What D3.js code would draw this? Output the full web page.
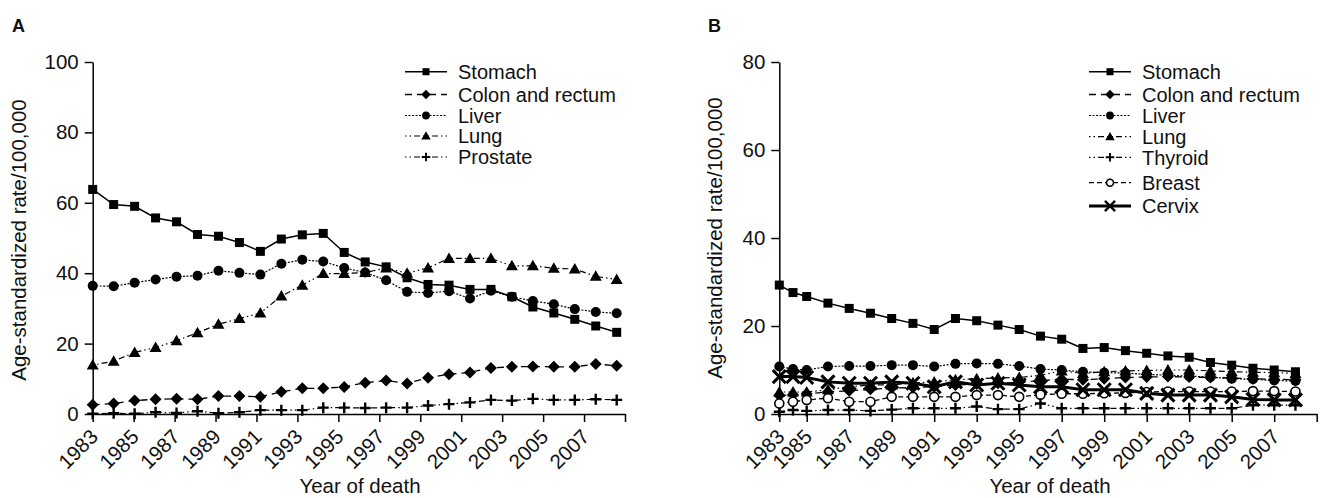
<!DOCTYPE html>
<html><head><meta charset="utf-8">
<script src="https://cdn.jsdelivr.net/npm/d3@7/dist/d3.min.js"></script>
<style>
body{margin:0;background:#fff}
text{font-family:"Liberation Sans",Arial,Helvetica,sans-serif;fill:#111}
</style>
</head><body>
<svg id="c" width="1321" height="498"></svg>
<script>
// ---------- data ----------
const years = [1983,1984,1985,1986,1987,1988,1989,1990,1991,1992,1993,1994,1995,1996,1997,1998,1999,2000,2001,2002,2003,2004,2005,2006,2007,2008];
const tickYears = [1983,1985,1987,1989,1991,1993,1995,1997,1999,2001,2003,2005,2007,2009];
const tickLabels = ["1983","1985","1987","1989","1991","1993","1995","1997","1999","2001","2003","2005","2007",""];
const yTicksA = [0,20,40,60,80,100];
const yTicksB = [0,20,40,60,80];

// Panel A (men)
const aStomach  = [63.8,59.5,59.0,55.7,54.6,51.0,50.5,48.7,46.2,49.7,50.9,51.3,45.9,43.2,41.8,38.7,36.8,36.6,35.4,35.4,33.3,30.4,28.7,26.9,25.0,23.2];
const aColon    = [2.6,3.0,3.8,4.2,4.3,4.2,5.1,5.1,4.9,6.3,7.3,7.3,7.7,8.9,9.5,8.7,10.3,11.3,11.8,13.1,13.4,13.5,13.4,13.4,14.2,13.7];
const aLiver    = [36.4,36.3,37.3,38.2,39.0,39.3,40.7,40.1,39.6,42.7,43.8,43.3,41.5,40.2,38.0,34.7,34.4,34.9,32.8,35.0,33.3,32.1,31.2,29.8,29.0,28.6];
const aLung     = [13.9,15.0,17.5,18.9,20.8,23.1,25.5,27.1,28.7,33.5,36.6,39.9,39.9,40.2,41.5,40.0,41.5,44.2,44.2,44.2,42.1,42.1,41.4,41.2,39.1,38.2];
const aProstate = [0.1,0.2,0.1,0.5,0.3,0.8,0.2,0.5,1.1,1.1,1.1,1.8,1.8,1.7,1.8,1.8,2.4,2.8,3.3,4.0,3.8,4.3,4.0,4.0,4.2,4.0];

// Panel B (women)
const bStomach = [29.3,27.6,26.7,25.2,24.0,22.9,21.7,20.6,19.2,21.7,21.2,20.2,19.2,17.7,17.0,14.9,15.1,14.4,13.8,13.2,12.9,11.7,11.1,10.4,10.0,9.6];
const bColon   = [4.2,4.4,4.6,5.0,5.3,5.6,5.9,6.0,6.2,6.6,6.8,7.0,7.2,7.6,7.9,7.8,8.0,8.3,8.4,8.5,8.4,8.3,8.2,8.0,7.9,7.8];
const bLiver   = [10.8,10.2,10.0,10.8,10.9,10.9,11.1,11.1,10.8,11.4,11.5,11.4,10.9,10.2,10.0,9.6,9.4,9.3,9.0,8.8,8.6,8.4,8.0,7.9,7.6,7.5];
const bLung    = [5.0,5.0,5.0,5.5,6.2,6.6,6.6,7.1,7.3,7.8,8.0,8.2,8.3,8.8,9.8,9.2,9.6,9.8,9.9,10.0,10.0,9.8,9.6,9.5,9.4,9.2];
const bThyroid = [0.5,0.9,0.7,0.9,0.9,0.7,1.0,1.3,1.3,1.3,1.7,1.1,1.1,2.4,1.3,1.3,1.3,1.3,1.3,1.3,1.3,1.3,1.3,2.0,2.0,2.0];
const bBreast  = [2.4,2.8,3.2,3.6,2.8,2.8,3.9,3.9,3.9,3.9,4.3,4.3,3.9,4.4,4.6,4.6,4.7,4.8,5.0,5.1,5.1,5.1,5.1,5.2,5.2,5.1];
const bCervix  = [8.5,8.5,8.3,7.3,7.0,7.0,7.3,7.0,6.2,7.3,6.6,7.0,6.6,6.2,6.2,5.5,5.5,5.5,4.7,4.3,4.3,4.3,3.9,3.3,3.2,3.2];

const namesA = ["Stomach","Colon and rectum","Liver","Lung","Prostate"];
const namesB = ["Stomach","Colon and rectum","Liver","Lung","Thyroid","Breast","Cervix"];

// ---------- styles ----------
const STY = {
  "Stomach":          {dash:null,            w:1.5, mark:"square"},
  "Colon and rectum": {dash:"7,5",           w:1.3, mark:"diamond"},
  "Liver":            {dash:"2,1.5",         w:1.2, mark:"circle"},
  "Lung":             {dash:"1.5,3,1.5,3,6,3",w:1.2, mark:"triangle"},
  "Prostate":         {dash:"1.5,3,1.5,3,6,3",w:1.2, mark:"plus"},
  "Thyroid":          {dash:"1.5,3,1.5,3,6,3",w:1.2, mark:"plus"},
  "Breast":           {dash:"5,3",           w:1.3, mark:"ocircle"},
  "Cervix":           {dash:null,            w:3,   mark:"x"}
};

const svg = d3.select("#c");
const FS = 20.5;
const LFS = 20;

function drawMark(g, type, x, y, s) {
  s = s || 1;
  if (type === "square") {
    g.append("rect").attr("x", x-4.5*s).attr("y", y-4.5*s).attr("width", 9*s).attr("height", 9*s).attr("fill","#000");
  } else if (type === "diamond") {
    const r = 6*s;
    g.append("path").attr("d", `M${x},${y-r}L${x+r},${y}L${x},${y+r}L${x-r},${y}Z`).attr("fill","#000");
  } else if (type === "circle") {
    g.append("circle").attr("cx", x).attr("cy", y).attr("r", 5*s).attr("fill","#000");
  } else if (type === "triangle") {
    const r = 6*s;
    g.append("path").attr("d", `M${x},${y-r}L${x+r},${y+r*0.75}L${x-r},${y+r*0.75}Z`).attr("fill","#000");
  } else if (type === "plus") {
    const r = 5.5*s;
    g.append("path").attr("d", `M${x-r},${y}H${x+r}M${x},${y-r}V${y+r}`).attr("stroke","#000").attr("stroke-width",2.4*s);
  } else if (type === "ocircle") {
    g.append("circle").attr("cx", x).attr("cy", y).attr("r", 4.5*s).attr("fill","#fff").attr("stroke","#000").attr("stroke-width",1.6);
  } else if (type === "x") {
    const r = 6.5*s;
    g.append("path").attr("d", `M${x-r},${y-r}L${x+r},${y+r}M${x-r},${y+r}L${x+r},${y-r}`).attr("stroke","#000").attr("stroke-width",3*s);
  }
}

function panel(cfg) {
  const g = svg.append("g");
  const y = d3.scaleLinear().domain([0, cfg.yMax]).range([414, 62]);
  const ya = g.append("g").attr("transform", `translate(${cfg.x0},0)`)
    .call(d3.axisLeft(y).tickValues(cfg.yTicks).tickSize(8).tickSizeOuter(0).tickPadding(6));
  const xa = g.append("g").attr("transform", `translate(0,414)`)
    .call(d3.axisBottom(cfg.xTick).tickValues(tickYears).tickFormat((d,i)=>tickLabels[i]).tickSize(8).tickSizeOuter(0));
  [ya, xa].forEach(a => {
    a.selectAll("path,line").attr("stroke","#000").attr("stroke-width",1.5);
    a.selectAll("text").attr("font-size", FS).attr("font-family", '"Liberation Sans",Arial,sans-serif').attr("fill","#111");
  });
  xa.selectAll("text").attr("text-anchor","end").attr("dy",0).attr("y",0)
    .attr("transform","translate(6,24) rotate(-45)");
  g.append("text").attr("transform", `translate(${cfg.ylabX},${cfg.ylabY}) rotate(-90)`)
    .attr("text-anchor","middle").attr("font-size",FS).text("Age-standardized rate/100,000");
  g.append("text").attr("x", cfg.xlabX).attr("y", 493).attr("text-anchor","middle").attr("font-size",FS).text("Year of death");
  g.append("text").attr("x", cfg.tagX).attr("y", 32).attr("font-size",18).attr("font-weight","bold").text(cfg.tag);

  cfg.series.forEach(s => {
    const st = STY[s.name];
    const line = d3.line().x((d,i)=>cfg.xPt(years[i])).y(d=>y(d));
    g.append("path").datum(s.values).attr("d", line).attr("fill","none")
      .attr("stroke","#000").attr("stroke-width", st.w)
      .attr("stroke-dasharray", st.dash);
  });
  cfg.series.forEach(s => {
    const st = STY[s.name];
    const mg = g.append("g");
    s.values.forEach((v,i) => drawMark(mg, st.mark, cfg.xPt(years[i]), y(v), 1));
  });

  cfg.series.forEach((s,i) => {
    const st = STY[s.name];
    const cy = cfg.legRows[i];
    g.append("line").attr("x1", cfg.legX).attr("x2", cfg.legX+42).attr("y1", cy).attr("y2", cy)
      .attr("stroke","#000").attr("stroke-width", st.w).attr("stroke-dasharray", st.dash);
    drawMark(g, st.mark, cfg.legX+21, cy, 0.78);
    g.append("text").attr("x", cfg.legX+53).attr("y", cy+7.3).attr("font-size",LFS).text(s.name);
  });
}

panel({
  tag:"A", tagX:12, x0:92.7, yMax:100, yTicks:yTicksA,
  xPt: d3.scaleLinear().domain([1983,2008]).range([92.7,616.7]),
  xTick: d3.scaleLinear().domain([1983,2009]).range([92.7,625]),
  ylabX:26, ylabY:240, xlabX:360,
  legX:405, legRows:[71.7,94.5,115.5,136,157],
  series:[
    {name:namesA[0], values:aStomach},
    {name:namesA[1], values:aColon},
    {name:namesA[2], values:aLiver},
    {name:namesA[3], values:aLung},
    {name:namesA[4], values:aProstate}
  ]
});

const xB = d3.scaleLinear().domain([1983,1985,2009]).range([779.3,806.7,1316.7]);
panel({
  tag:"B", tagX:708, x0:779.3, yMax:80, yTicks:yTicksB,
  xPt: xB, xTick: xB,
  ylabX:722, ylabY:238, xlabX:1050,
  legX:1089, legRows:[71.7,94.5,115.5,136.7,157.3,182.7,206],
  series:[
    {name:namesB[0], values:bStomach},
    {name:namesB[1], values:bColon},
    {name:namesB[2], values:bLiver},
    {name:namesB[3], values:bLung},
    {name:namesB[4], values:bThyroid},
    {name:namesB[5], values:bBreast},
    {name:namesB[6], values:bCervix}
  ]
});
</script>
</body></html>
